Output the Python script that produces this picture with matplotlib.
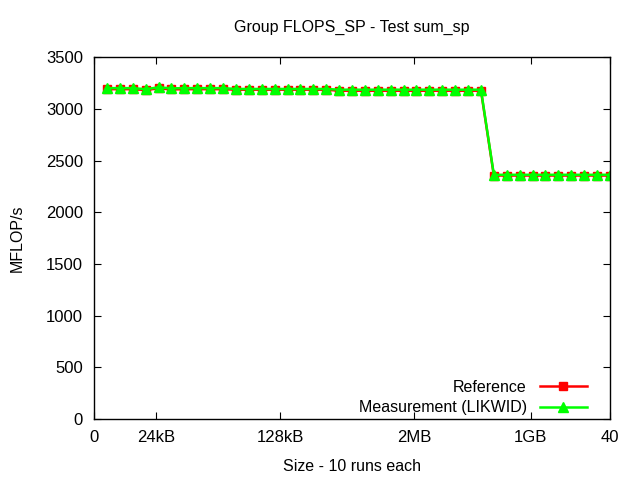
import numpy as np
import matplotlib
matplotlib.use("Agg")
import matplotlib.pyplot as plt

plt.rcParams["font.family"] = ["Liberation Sans", "DejaVu Sans"]

# ---- data ----
x_idx = list(range(1, 41))
reference = [3190, 3190, 3190, 3182, 3198, 3188, 3190, 3190, 3190, 3190,
             3185, 3185, 3185, 3185, 3185, 3185, 3185, 3185, 3175, 3175,
             3175, 3175, 3175, 3175, 3175, 3175, 3175, 3175, 3175, 3175,
             2355, 2355, 2355, 2355, 2355, 2355, 2355, 2355, 2355, 2355]
measurement = [3200, 3200, 3200, 3190, 3208, 3198, 3200, 3200, 3200, 3200,
               3192, 3192, 3192, 3192, 3192, 3192, 3192, 3192, 3185, 3185,
               3185, 3185, 3185, 3185, 3185, 3185, 3185, 3185, 3185, 3185,
               2362, 2362, 2362, 2362, 2362, 2362, 2362, 2362, 2362, 2362]
xtick_pos = [0, 4.8, 14.45, 24.8, 33.85, 40]
xtick_lab = ["0", "24kB", "128kB", "2MB", "1GB", "40"]
yticks = [0, 500, 1000, 1500, 2000, 2500, 3000, 3500]

fig = plt.figure(figsize=(6.4, 4.8), dpi=100)
ax = fig.add_axes([0.147, 0.127, 0.806, 0.754])

ax.plot(x_idx, reference, "-", color="#ff0000", lw=1.8, marker="s", ms=5.8,
        label="Reference")
ax.plot(x_idx, measurement, "-", color="#00ff00", lw=1.8, marker="^", ms=7.5,
        label="Measurement (LIKWID)")

ax.set_xlim(0, 40)
ax.set_ylim(0, 3500)
ax.set_xticks(xtick_pos)
ax.set_xticklabels(xtick_lab)
ax.set_yticks(yticks)
ax.tick_params(direction="in", length=5, top=True, right=True, labelsize=12, pad=8)
for s in ax.spines.values():
    s.set_linewidth(1.0)

ax.set_title("Group FLOPS_SP - Test sum_sp", fontsize=11.5, pad=18)
ax.set_xlabel("Size - 10 runs each", fontsize=11.5, labelpad=10)
ax.set_ylabel("MFLOP/s", fontsize=11.5, labelpad=15)

ax.legend(loc="lower right", frameon=False, markerfirst=False, fontsize=11.5,
          handlelength=3.0, borderaxespad=0.2, labelspacing=0.35,
          bbox_to_anchor=(0.975, -0.016))

fig.savefig("out.png", dpi=100)
